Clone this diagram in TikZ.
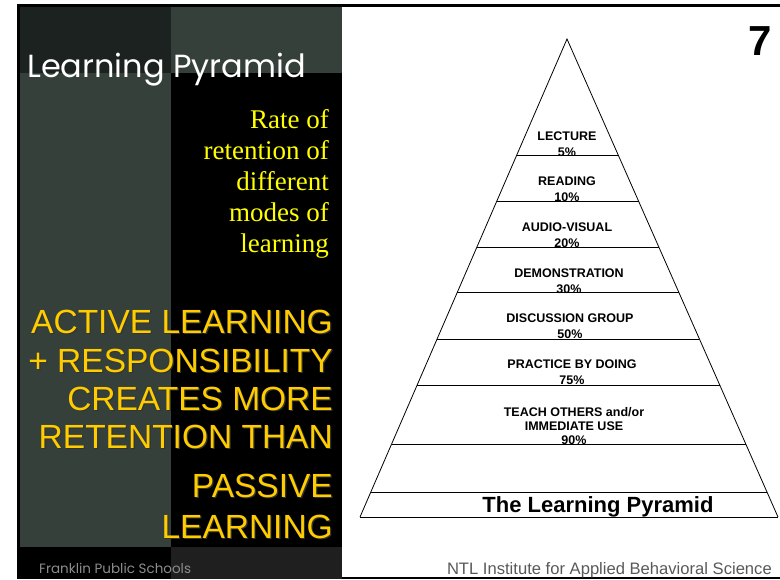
\documentclass[tikz,border=0pt]{standalone}
\usepackage{fontspec}
\setmainfont{Liberation Sans}
\newfontfamily\serifface{Liberation Serif}
\newfontfamily\gothicface{Poppins}
\usetikzlibrary{calc}
\definecolor{topdark}{HTML}{1C221F}
\definecolor{panelgreen}{HTML}{35403A}
\definecolor{footgray}{HTML}{1F1F1F}
\definecolor{goldtext}{HTML}{FFCC00}
\definecolor{rateyellow}{HTML}{FFFF00}
\begin{document}
\begin{tikzpicture}[x=1pt,y=-1pt,
    level/.style={font=\bfseries\fontsize{12.5}{16}\selectfont, align=center, inner sep=0pt},
    bigline/.style={anchor=base east, inner sep=0pt, font=\fontsize{33.5}{38}\selectfont},
    rateline/.style={anchor=base east, inner sep=0pt, text=rateyellow, font=\serifface\fontsize{27}{31}\selectfont}]

    % Background panels
    \useasboundingbox (0,0) rectangle (780,579);
    \fill[black] (17,4) rectangle (780,7);
    \fill[black] (17,4) rectangle (20,579);
    \fill[topdark] (20,7) rectangle (171,73);
    \fill[panelgreen] (171,7) rectangle (342,73);
    \fill[panelgreen] (20,73) rectangle (171,547);
    \fill[black] (171,73) rectangle (342,547);
    \fill[black] (20,547) rectangle (171,579);
    \fill[footgray] (171,547) rectangle (342,579);
    \fill[black] (342,577) rectangle (780,579);

    % Left panel text
    \node[anchor=base west, inner sep=0pt, text=white, font=\gothicface\fontsize{32}{38}\selectfont] (title) at (27,77) {Learning Pyramid};

    \foreach \y/\txt [count=\i] in {128/Rate of, 159/retention of, 190/different, 221/modes of, 252/learning}
        \node[rateline] (rate\i) at (329,\y) {\txt};

    \foreach \y/\txt [count=\i] in {333/ACTIVE LEARNING, 372/+ RESPONSIBILITY, 410/CREATES MORE, 448/RETENTION THAN, 497/PASSIVE, 538/LEARNING} {
        \node[bigline, text=black!80] (shade\i) at (334.2,\y+1.2) {\txt};
        \node[bigline, text=goldtext] (line\i) at (333,\y) {\txt};
    }

    \node[anchor=base west, inner sep=0pt, text=black!45, font=\gothicface\fontsize{13.5}{15}\selectfont] (school) at (39,573) {Franklin Public Schools};

    % Pyramid
    \coordinate (apex) at (567,39);
    \coordinate (baseL) at (360,517);
    \coordinate (baseR) at (778,517);
    \draw[line width=0.8pt] (baseL) -- (apex) -- (baseR);
    \foreach \y in {155,201,247,292,339,385,444,492,517} {
        \pgfmathsetmacro\t{(\y-39)/478}
        \draw[line width=0.9pt] ($(apex)!\t!(baseL)$) -- ($(apex)!\t!(baseR)$);
    }

    % Level labels
    \node[level] (lecture) at (567,144) {LECTURE\\5\%};
    \node[level] (reading) at (567,189) {READING\\10\%};
    \node[level] (audio) at (567,235) {AUDIO-VISUAL\\20\%};
    \node[level] (demo) at (569,281) {DEMONSTRATION\\30\%};
    \node[level] (discuss) at (570,326) {DISCUSSION GROUP\\50\%};
    \node[level] (practice) at (572,372) {PRACTICE BY DOING\\75\%};
    \node[level, font=\bfseries\fontsize{12.5}{14}\selectfont] (teach) at (574,426) {TEACH OTHERS and/or\\IMMEDIATE USE\\90\%};
    \node[inner sep=0pt, font=\bfseries\fontsize{22}{24}\selectfont] (pyrtitle) at (598,507) {The Learning Pyramid};

    % Slide number and source
    \node[anchor=base east, inner sep=0pt, font=\bfseries\fontsize{42}{48}\selectfont] (slidenum) at (772,55) {7};
    \node[anchor=base east, inner sep=0pt, text=black!65, font=\fontsize{16.6}{18}\selectfont] (source) at (772,574) {NTL Institute for Applied Behavioral Science};

\end{tikzpicture}
\end{document}
